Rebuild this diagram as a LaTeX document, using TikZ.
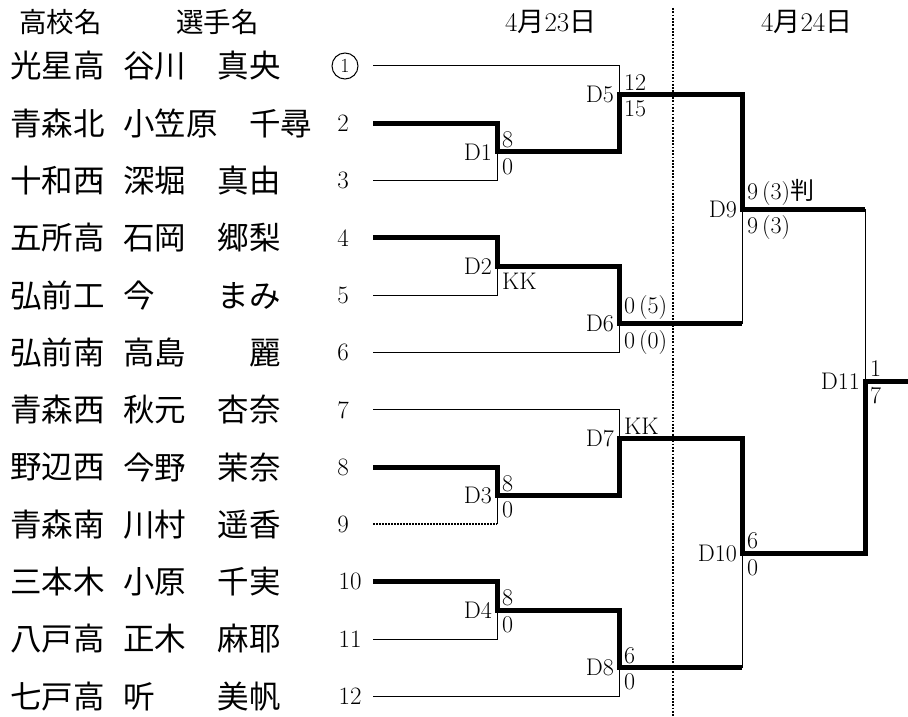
\documentclass[tikz,border=0pt]{standalone}
\usepackage{fontspec}
\newfontfamily\jfont{Noto Sans CJK JP}
\newcommand{\jp}[1]{{\jfont #1}}
\usetikzlibrary{positioning}
\tikzset{
	win/.style={line width=5pt},
	lose/.style={line width=1pt},
	bye/.style={line width=2pt, dash pattern=on 1.5pt off 1.5pt},
	sep/.style={line width=2pt, dash pattern=on 1.8pt off 1.5pt},
	nm/.style={font=\jfont\fontsize{31.5}{31.5}\selectfont, anchor=west, inner sep=0pt},
	hd/.style={font=\jfont\fontsize{27.5}{27.5}\selectfont, anchor=west, inner sep=0pt},
	day/.style={font=\fontsize{27}{27}\selectfont, anchor=west, inner sep=0pt},
	num/.style={font=\fontsize{25}{25}\selectfont, inner sep=0pt},
	mlbl/.style={font=\fontsize{24}{24}\selectfont, inner sep=0pt},
	score/.style={font=\fontsize{24}{24}\selectfont, inner sep=0pt}
}
\begin{document}
\begin{tikzpicture}[x=1pt, y=-1pt]
		\useasboundingbox (0,0) rectangle (908,717);
	% Encabezados
		\node[hd] (hschool) at (19,22) {高校名};
		\node[hd] (hplayer) at (176,22) {選手名};
		\node[day] (day1) at (505,22) {4\jp{月}23\jp{日}};
		\node[day] (day2) at (761,22) {4\jp{月}24\jp{日}};
		\coordinate (sepT) at (673,8);
		\coordinate (sepB) at (673,717);
		\draw[sep] (sepT) -- (sepB);

	% Jugadoras
		\foreach \i/\sch/\pl in {1/光星高/谷川　真央, 2/青森北/小笠原　千尋, 3/十和西/深堀　真由,
			4/五所高/石岡　郷梨, 5/弘前工/今　　まみ, 6/弘前南/高島　　麗, 7/青森西/秋元　杏奈,
			8/野辺西/今野　茉奈, 9/青森南/川村　遥香, 10/三本木/小原　千実, 11/八戸高/正木　麻耶,
			12/七戸高/听　　美帆}{
			\node[nm] (s\i) at (10,{66+(\i-1)*57.3}) {\sch};
			\node[nm] (n\i) at (123,{66+(\i-1)*57.3}) {\pl};
			\coordinate (p\i) at (373,{66+(\i-1)*57.3});
		}
		\node[num, draw, circle, line width=1pt, minimum size=26pt, font=\fontsize{20}{20}\selectfont] (k1) at (345,66) {1};
		\foreach \i in {2,...,12}{
			\pgfmathsetmacro\nx{\i<10 ? 343 : 350}
			\node[num] (k\i) at (\nx,{66+(\i-1)*57.3}) {\i};
		}

	% Partidos
		\coordinate (d1) at (497,151.95);
		\coordinate (d2) at (497,266.55);
		\coordinate (d3) at (497,495.75);
		\coordinate (d4) at (497,610.35);
		\coordinate (d5) at (619,94.65);
		\coordinate (d6) at (619,323.85);
		\coordinate (d7) at (619,438.45);
		\coordinate (d8) at (619,667.65);
		\coordinate (d9) at (742,209.25);
		\coordinate (d10) at (742,553.05);
		\coordinate (d11) at (865,381.15);
		\coordinate (fin) at (908,381.15);

	% Perdedoras
		\draw[lose] (p1) -| (d5);
		\draw[lose] (p3) -| (d1);
		\draw[lose] (p5) -| (d2);
		\draw[lose] (p6) -| (d6);
		\draw[lose] (p7) -| (d7);
		\draw[bye] (p9) -- (p9 -| d3);
		\draw[lose] (p9 -| d3) -- (d3);
		\draw[lose] (p11) -| (d4);
		\draw[lose] (p12) -| (d8);
		\draw[lose] (d6 -| d9) -- (d9);
		\draw[lose] (d8 -| d10) -- (d10);
		\draw[lose] (d9 -| d11) -- (d11);

	% Ganadoras
		\draw[win] (p2) -| (d1) -| (d5) -| (d9) -- (d9 -| d11);
		\draw[win] (p4) -| (d2) -| (d6) -- (d6 -| d9);
		\draw[win] (p8) -| (d3) -| (d7) -| (d10) -| (d11) -- (fin);
		\draw[win] (p10) -| (d4) -| (d8) -- (d8 -| d10);

	% Etiquetas
		\foreach \m/\t in {d1/D1, d2/D2, d3/D3, d4/D4, d5/D5, d6/D6, d7/D7, d8/D8, d9/D9, d10/D10, d11/D11}
			\node[mlbl, left=5pt of \m] (l\m) {\t};

	% Marcadores
		\node[score, above right=4pt and 5pt of d1] (d1a) {8};
		\node[score, below right=6pt and 5pt of d1] (d1b) {0};
		\node[score, below right=6pt and 5pt of d2] (d2b) {KK};
		\node[score, above right=4pt and 5pt of d3] (d3a) {8};
		\node[score, below right=6pt and 5pt of d3] (d3b) {0};
		\node[score, above right=4pt and 5pt of d4] (d4a) {8};
		\node[score, below right=6pt and 5pt of d4] (d4b) {0};
		\node[score, above right=4pt and 5pt of d5] (d5a) {12};
		\node[score, below right=6pt and 5pt of d5] (d5b) {15};
		\node[score, above right=4pt and 5pt of d6] (d6a) {0\,(5)};
		\node[score, below right=6pt and 5pt of d6] (d6b) {0\,(0)};
		\node[score, above right=4pt and 5pt of d7] (d7a) {KK};
		\node[score, above right=4pt and 5pt of d8] (d8a) {6};
		\node[score, below right=6pt and 5pt of d8] (d8b) {0};
		\node[score, above right=4pt and 5pt of d9] (d9a) {9\,(3)\jp{判}};
		\node[score, below right=6pt and 5pt of d9] (d9b) {9\,(3)};
		\node[score, above right=4pt and 5pt of d10] (d10a) {6};
		\node[score, below right=6pt and 5pt of d10] (d10b) {0};
		\node[score, above right=4pt and 5pt of d11] (d11a) {1};
		\node[score, below right=6pt and 5pt of d11] (d11b) {7};
\end{tikzpicture}
\end{document}
